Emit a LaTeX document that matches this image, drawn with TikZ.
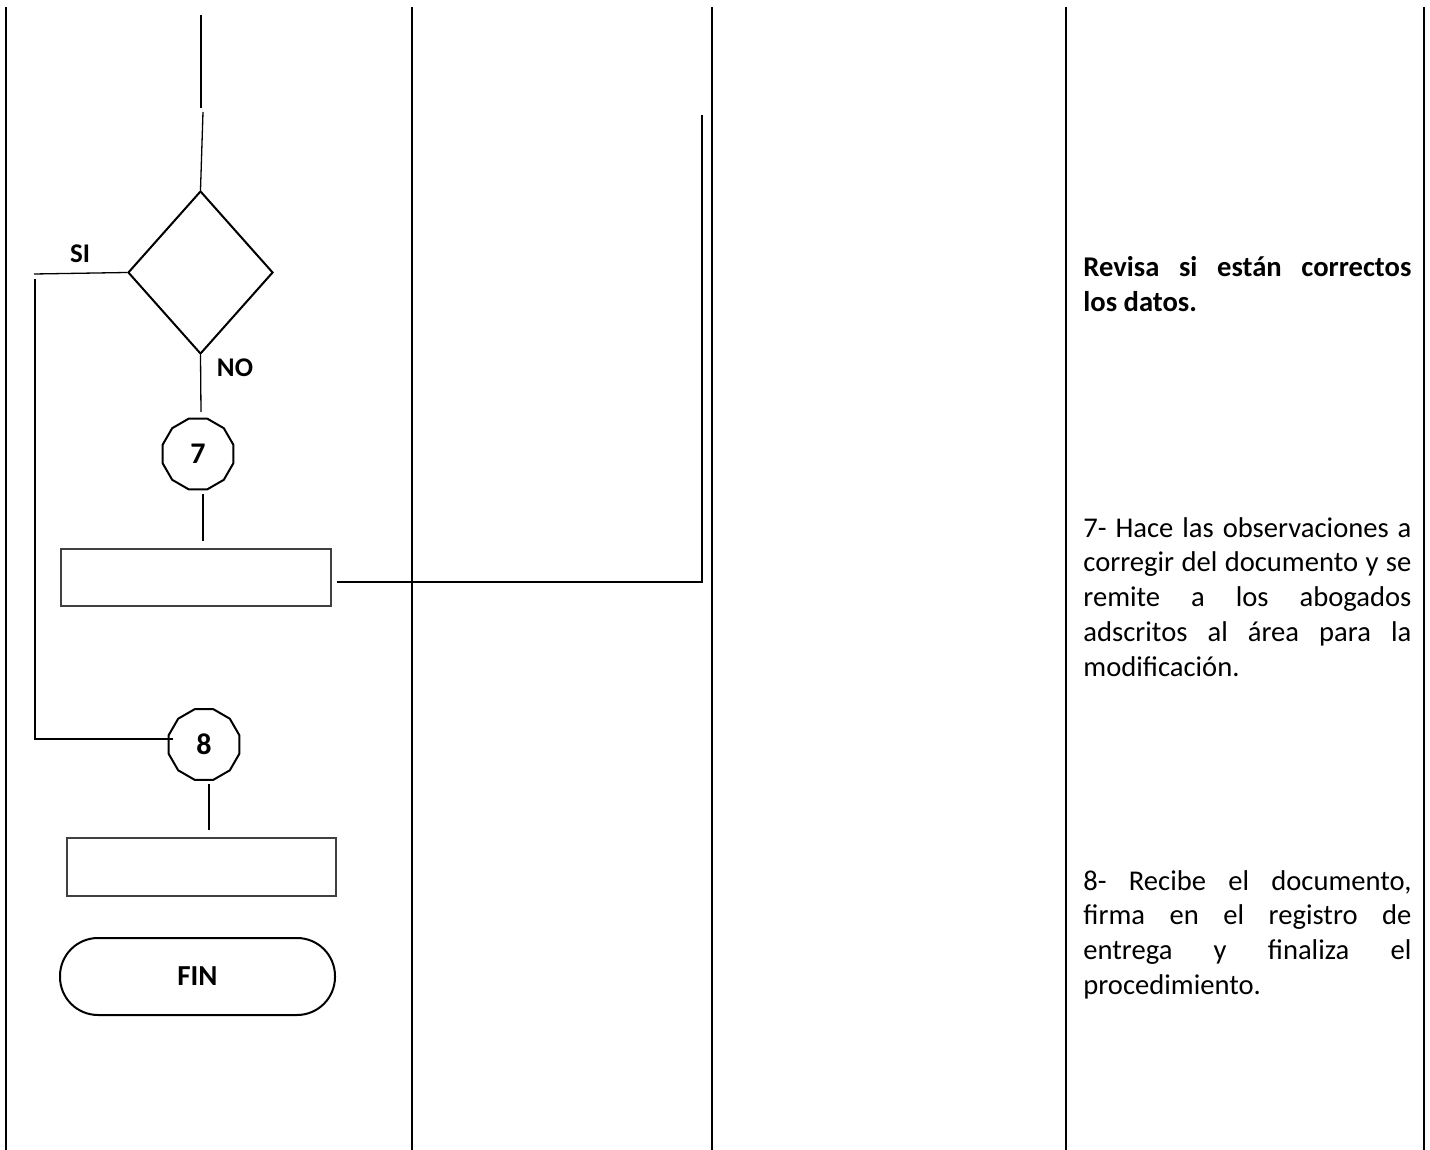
\documentclass[tikz,border=0pt]{standalone}
\usepackage{fontspec}
\setmainfont{Carlito}
\usetikzlibrary{shapes.geometric}
\begin{document}
\begin{tikzpicture}[x=0.5pt,y=-0.5pt,
  col/.style={line width=1.2pt},
  conn/.style={line width=0.65pt},
  dec/.style={diamond, draw, line width=1pt, inner sep=0pt, minimum width=72.5pt, minimum height=81.5pt},
  conector/.style={regular polygon, regular polygon sides=12, draw, line width=1pt, inner sep=0pt, minimum size=36.5pt, font=\fontsize{15}{17}\selectfont\bfseries},
  proc/.style={rectangle, draw=black!75, line width=0.8pt, inner sep=0pt},
  term/.style={rectangle, rounded corners=19pt, draw, line width=1pt, minimum width=137.5pt, minimum height=38.5pt, font=\fontsize{14.5}{16}\selectfont\bfseries},
  lbl/.style={inner sep=0pt, font=\fontsize{13.5}{15}\selectfont\bfseries},
  desc/.style={anchor=base west, inner sep=0pt, font=\fontsize{14.3}{17.4}\selectfont}
]
\useasboundingbox (0,0) rectangle (1430,1150);
\fill[white] (0,0) rectangle (1430,1150);
% column borders
\draw[col] (6,7) -- (6,1150);
\draw[col] (412,7) -- (412,1150);
\draw[col] (712,7) -- (712,1150);
\draw[col] (1066,7) -- (1066,1150);
\draw[col] (1424,7) -- (1424,1150);

% flow shapes
\node[dec] (dec) at (200.5,272.5) {};
\node[conector] (c7) at (198,454) {7};
\node[proc, minimum width=135pt, minimum height=28.5pt] (p1) at (196,577.5) {};
\node[conector] (c8) at (204,744.5) {8};
\node[proc, minimum width=134.5pt, minimum height=29pt] (p2) at (201.5,867) {};
\node[term] (fin) at (197.5,976.5) {FIN};

\node[lbl] (si) at (80,254) {SI};
\node[lbl] (no) at (235,368) {NO};

% connectors
\coordinate (a0) at (201,15);
\coordinate (a1) at (201,108);
\coordinate (a2) at (203,112);
\draw[conn] (a0) -- (a1);
\draw[conn] (a2) -- (dec.north);
\coordinate (b1) at (201,412);
\draw[conn] (dec.south) -- (b1);
\coordinate (e0) at (203,494);
\coordinate (e1) at (203,541);
\draw[conn] (e0) -- (e1);
\coordinate (f0) at (337,582);
\coordinate (f1) at (702,115);
\draw[conn] (f0) -| (f1);
\coordinate (s0) at (34,274);
\draw[conn] (dec.west) -- (s0);
\coordinate (s1) at (35,279);
\coordinate (s2) at (173,739);
\draw[conn] (s1) |- (s2);
\coordinate (g0) at (209,784);
\coordinate (g1) at (209,830);
\draw[conn] (g0) -- (g1);

% descriptions
\node[desc, font=\fontsize{14.3}{17.4}\selectfont\bfseries] (t6) at (1083,277) {\parbox[t]{164pt}{%
\makebox[164pt][s]{Revisa si están correctos}\\
los datos.}};
\node[desc] (t7) at (1083,537) {\parbox[t]{164pt}{%
\makebox[164pt][s]{7- Hace las observaciones a}\\
\makebox[164pt][s]{corregir del documento y se}\\
\makebox[164pt][s]{remite a los abogados}\\
\makebox[164pt][s]{adscritos al área para la}\\
modificación.}};
\node[desc] (t8) at (1083,890) {\parbox[t]{164pt}{%
\makebox[164pt][s]{8- Recibe el documento,}\\
\makebox[164pt][s]{firma en el registro de}\\
\makebox[164pt][s]{entrega y finaliza el}\\
procedimiento.}};
\end{tikzpicture}
\end{document}
